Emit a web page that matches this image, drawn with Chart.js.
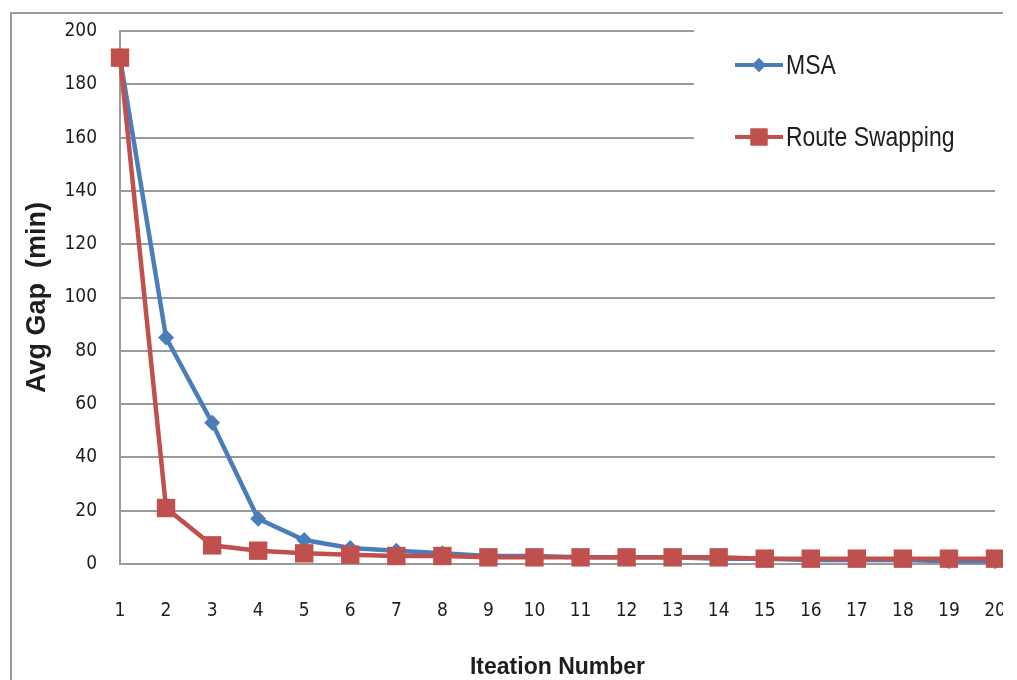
<!DOCTYPE html>
<html>
<head>
<meta charset="utf-8">
<script src="https://cdn.jsdelivr.net/npm/chart.js@4.4.1/dist/chart.umd.min.js"></script>
<style>
  html, body { margin: 0; padding: 0; background: #fff; }
  #clip { position: relative; width: 1003px; height: 680px; overflow: hidden; background: #fff; }
  #frame { position: absolute; left: 10px; top: 12px; width: 1100px; height: 800px;
           border-left: 2px solid #9a9a9a; border-top: 2px solid #9a9a9a; box-sizing: border-box; }
  #wrap { position: absolute; left: 0; top: 0; width: 1017px; height: 680px; }
</style>
</head>
<body>
<div id="clip">
  <div id="frame"></div>
  <div id="wrap"><canvas id="c" width="1017" height="680"></canvas></div>
</div>
<script>
// Iteration numbers along the x axis
const iterations = ['1','2','3','4','5','6','7','8','9','10','11','12','13','14','15','16','17','18','19','20'];

// Average gap (minutes) per iteration for each method
const msaGap = [190, 85, 53, 17, 9, 6, 5, 4, 3, 3, 2.5, 2.5, 2.5, 2, 2, 1.5, 1.5, 1.5, 1, 1];
const swapGap = [190, 21, 7, 5, 4, 3.5, 3, 3, 2.5, 2.5, 2.5, 2.5, 2.5, 2.5, 2, 2, 2, 2, 2, 2];

const seriesNames = ['MSA', 'Route Swapping'];
const yTicks = [0, 20, 40, 60, 80, 100, 120, 140, 160, 180, 200];

const BLUE = '#4a7ebb';
const RED = '#c0504d';
const GRID = '#9a9a9a';
const TEXT = '#1e1e1e';

// Legend drawn inside the plot area on a white panel that hides the grid behind it
const insetLegend = {
  id: 'insetLegend',
  beforeDatasetsDraw(chart) {
    const ctx = chart.ctx;
    const items = [
      { name: seriesNames[0], color: BLUE, style: 'rectRot', radius: 7, y: 65 },
      { name: seriesNames[1], color: RED, style: 'rect', radius: 12, y: 137 }
    ];
    ctx.save();
    ctx.fillStyle = '#ffffff';
    ctx.fillRect(694, 22, 330, 128);
    items.forEach(it => {
      ctx.strokeStyle = it.color;
      ctx.lineWidth = 4;
      ctx.beginPath();
      ctx.moveTo(735, it.y);
      ctx.lineTo(783, it.y);
      ctx.stroke();
      ctx.fillStyle = it.color;
      Chart.helpers.drawPoint(ctx, { pointStyle: it.style, radius: it.radius, borderWidth: 0 }, 759, it.y);
      ctx.fill();
      ctx.save();
      ctx.translate(786, it.y);
      ctx.scale(0.82, 1);
      ctx.fillStyle = TEXT;
      ctx.font = '28px "Liberation Sans", Arial, sans-serif';
      ctx.textBaseline = 'middle';
      ctx.fillText(it.name, 0, 1);
      ctx.restore();
    });
    ctx.restore();
  }
};

new Chart(document.getElementById('c'), {
  type: 'line',
  data: {
    labels: iterations,
    datasets: [
      {
        label: seriesNames[0],
        data: msaGap,
        borderColor: BLUE,
        backgroundColor: BLUE,
        borderWidth: 4.5,
        pointStyle: 'rectRot',
        pointRadius: 8,
        pointBorderWidth: 0,
        tension: 0,
        clip: false,
        order: 2
      },
      {
        label: seriesNames[1],
        data: swapGap,
        borderColor: RED,
        backgroundColor: RED,
        borderWidth: 4.5,
        pointStyle: 'rect',
        pointRadius: 13,
        pointBorderWidth: 0,
        tension: 0,
        clip: false,
        order: 1
      }
    ]
  },
  options: {
    responsive: false,
    animation: false,
    devicePixelRatio: 1,
    layout: { padding: { left: 0, top: 31, right: 22, bottom: 0 } },
    plugins: { legend: { display: false }, tooltip: { enabled: false } },
    scales: {
      x: {
        type: 'category',
        offset: false,
        grid: { display: false, drawTicks: false },
        border: { display: true, color: GRID, width: 2 },
        ticks: {
          color: TEXT,
          padding: 36,
          maxRotation: 0,
          autoSkip: false,
          font: { family: '"DejaVu Sans Condensed", "DejaVu Sans", sans-serif', size: 19 }
        },
        title: {
          display: true,
          text: 'Iteation Number',
          color: TEXT,
          font: { family: '"Liberation Sans", Arial, sans-serif', size: 23, weight: 'bold', lineHeight: 1 },
          padding: { top: 0, bottom: 1 }
        },
        afterFit(scale) {
          scale.height = 116;
          scale.paddingLeft = 0;
          scale.paddingRight = 0;
        }
      },
      y: {
        min: 0,
        max: 200,
        afterBuildTicks(scale) { scale.ticks = yTicks.map(v => ({ value: v })); },
        grid: { color: GRID, lineWidth: 2, drawTicks: false },
        border: { display: true, color: GRID, width: 2 },
        ticks: {
          color: TEXT,
          padding: 23,
          font: { family: '"DejaVu Sans Condensed", "DejaVu Sans", sans-serif', size: 19 }
        },
        title: {
          display: true,
          text: 'Avg Gap  (min)',
          color: TEXT,
          font: { family: '"Liberation Sans", Arial, sans-serif', size: 27, weight: 'bold', lineHeight: 1.2 },
          padding: { top: 21, bottom: 0 }
        },
        afterFit(scale) {
          scale.width = 120;
          scale.paddingTop = 0;
          scale.paddingBottom = 0;
        }
      }
    }
  },
  plugins: [insetLegend]
});
</script>
</body>
</html>
